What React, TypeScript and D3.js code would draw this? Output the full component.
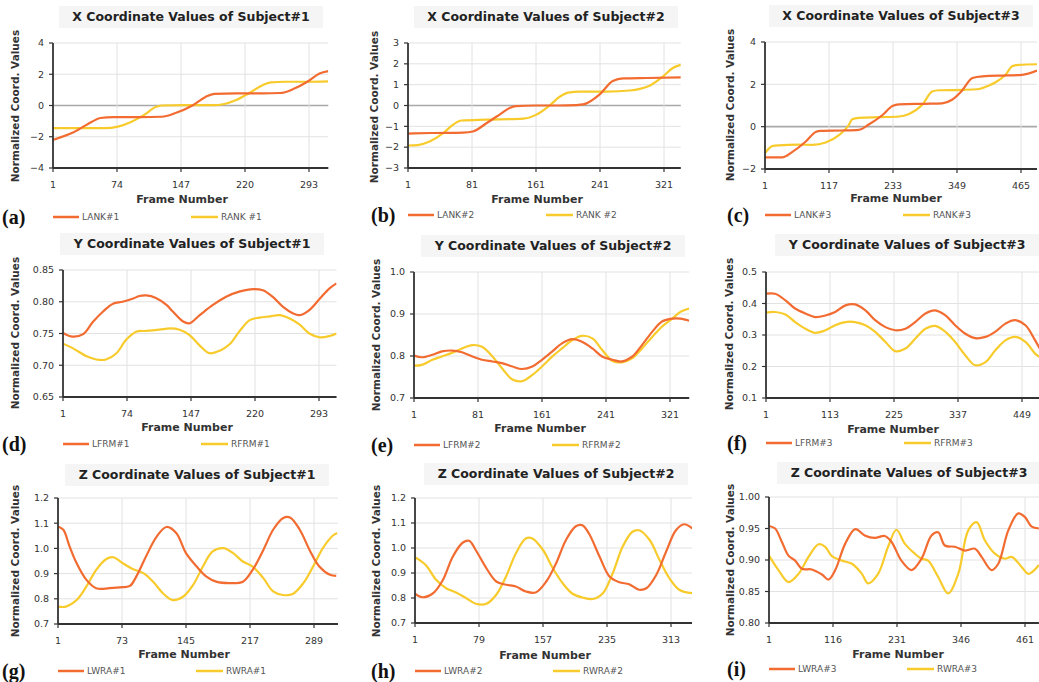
import React from 'react';
import * as d3 from 'd3';

type Pt = [number, number];

// [frame, normalized value]
const lank1: Pt[] = [[1,-2.2],[25,-1.7],[45,-1.05],[55,-0.8],[70,-0.75],[100,-0.75],[125,-0.72],[140,-0.5],[160,0],[175,0.55],[185,0.75],[210,0.78],[240,0.78],[260,0.8],[275,1.05],[292,1.55],[305,2.05],[315,2.2]];
const rank1: Pt[] = [[1,-1.45],[30,-1.45],[60,-1.45],[75,-1.35],[90,-1.05],[105,-0.6],[118,-0.1],[125,0],[150,0.02],[185,0.02],[195,0.08],[210,0.35],[225,0.8],[240,1.3],[250,1.48],[265,1.52],[290,1.52],[315,1.55]];

const lank2: Pt[] = [[1,-1.35],[30,-1.32],[70,-1.3],[82,-1.25],[99,-0.85],[115,-0.45],[128,-0.12],[136,-0.03],[160,0],[190,0],[211,0.02],[220,0.05],[241,0.55],[257,1.18],[270,1.3],[300,1.32],[342,1.35]];
const rank2: Pt[] = [[1,-1.92],[13,-1.9],[28,-1.73],[45,-1.33],[57,-0.93],[68,-0.72],[99,-0.68],[145,-0.63],[161,-0.45],[178,0],[191,0.43],[201,0.62],[216,0.67],[250,0.67],[278,0.72],[291,0.8],[303,0.95],[320,1.4],[332,1.8],[342,1.95]];

const lank3: Pt[] = [[1,-1.45],[32,-1.45],[50,-1.2],[75,-0.7],[93,-0.25],[102,-0.2],[140,-0.18],[171,-0.15],[189,0.1],[214,0.55],[232,0.98],[244,1.05],[290,1.08],[322,1.1],[340,1.27],[358,1.7],[377,2.3],[395,2.38],[440,2.42],[467,2.45],[494,2.65]];
const rank3: Pt[] = [[1,-1.25],[14,-0.92],[26,-0.88],[60,-0.85],[87,-0.86],[111,-0.75],[135,-0.4],[153,0.08],[159,0.35],[171,0.42],[210,0.45],[244,0.48],[262,0.6],[286,1.03],[304,1.66],[316,1.72],[360,1.74],[389,1.78],[407,1.95],[419,2.1],[437,2.45],[449,2.85],[461,2.92],[494,2.95]];

const lfrm1: Pt[] = [[1,0.751],[12,0.745],[24,0.749],[35,0.768],[47,0.785],[58,0.797],[69,0.8],[81,0.805],[88,0.809],[96,0.81],[107,0.806],[119,0.795],[126,0.785],[138,0.769],[145,0.766],[157,0.779],[172,0.795],[187,0.808],[202,0.816],[218,0.82],[229,0.818],[240,0.808],[252,0.792],[263,0.782],[271,0.779],[282,0.787],[294,0.805],[305,0.821],[313,0.829]];
const rfrm1: Pt[] = [[1,0.734],[12,0.727],[28,0.714],[39,0.709],[50,0.709],[62,0.719],[73,0.74],[85,0.753],[96,0.754],[111,0.756],[123,0.758],[134,0.756],[145,0.748],[157,0.731],[168,0.719],[180,0.723],[191,0.733],[202,0.753],[214,0.771],[225,0.775],[237,0.777],[248,0.779],[259,0.774],[271,0.764],[282,0.75],[294,0.744],[305,0.746],[313,0.75]];

const lfrm2: Pt[] = [[1,0.801],[11,0.797],[24,0.803],[36,0.811],[49,0.813],[61,0.809],[74,0.799],[86,0.791],[99,0.787],[111,0.783],[124,0.775],[136,0.769],[149,0.775],[161,0.791],[174,0.811],[186,0.83],[199,0.84],[211,0.834],[224,0.818],[236,0.799],[249,0.791],[261,0.787],[274,0.799],[286,0.826],[299,0.858],[311,0.882],[324,0.889],[334,0.889],[345,0.884]];
const rfrm2: Pt[] = [[1,0.777],[11,0.779],[24,0.791],[36,0.799],[49,0.808],[61,0.818],[74,0.826],[86,0.822],[99,0.799],[111,0.771],[124,0.744],[136,0.74],[149,0.755],[161,0.775],[174,0.799],[186,0.818],[199,0.838],[211,0.848],[224,0.842],[236,0.815],[249,0.788],[261,0.785],[274,0.795],[286,0.818],[299,0.846],[311,0.87],[324,0.889],[334,0.905],[345,0.913]];

const lfrm3: Pt[] = [[1,0.431],[17,0.431],[35,0.41],[52,0.384],[70,0.368],[87,0.357],[105,0.362],[122,0.373],[140,0.394],[157,0.397],[175,0.378],[192,0.347],[210,0.325],[227,0.315],[245,0.32],[262,0.341],[280,0.368],[297,0.378],[315,0.362],[332,0.331],[350,0.304],[367,0.29],[385,0.294],[402,0.31],[420,0.336],[437,0.347],[455,0.331],[472,0.283],[480,0.257]];
const rfrm3: Pt[] = [[1,0.371],[17,0.373],[35,0.365],[52,0.341],[70,0.32],[87,0.307],[105,0.315],[122,0.331],[140,0.341],[157,0.341],[175,0.331],[192,0.31],[210,0.278],[227,0.249],[245,0.257],[262,0.288],[280,0.32],[297,0.329],[315,0.31],[332,0.278],[350,0.235],[367,0.204],[385,0.214],[402,0.251],[420,0.283],[437,0.294],[455,0.278],[472,0.241],[480,0.23]];

const lwra1: Pt[] = [[1,1.087],[7,1.074],[14,1.008],[22,0.941],[33,0.875],[44,0.842],[59,0.842],[74,0.846],[82,0.851],[89,0.888],[100,0.968],[112,1.047],[123,1.085],[134,1.061],[145,0.981],[157,0.928],[168,0.888],[179,0.868],[194,0.862],[209,0.868],[220,0.915],[232,0.994],[243,1.074],[254,1.12],[262,1.123],[273,1.074],[284,0.994],[295,0.928],[307,0.895],[314,0.891]];
const rwra1: Pt[] = [[1,0.769],[10,0.769],[22,0.795],[33,0.849],[44,0.915],[55,0.957],[63,0.965],[74,0.941],[85,0.918],[97,0.902],[108,0.868],[119,0.822],[130,0.795],[142,0.809],[153,0.855],[164,0.928],[175,0.988],[187,1.001],[198,0.981],[209,0.948],[220,0.928],[232,0.882],[243,0.829],[254,0.815],[265,0.819],[277,0.862],[288,0.928],[299,1.001],[310,1.05],[315,1.061]];

const lwra2: Pt[] = [[1,0.817],[10,0.803],[23,0.819],[35,0.872],[47,0.965],[59,1.021],[67,1.029],[75,0.992],[88,0.919],[100,0.866],[112,0.853],[124,0.846],[136,0.826],[148,0.822],[161,0.866],[173,0.939],[185,1.032],[197,1.087],[205,1.091],[213,1.058],[226,0.965],[238,0.886],[250,0.863],[262,0.855],[274,0.833],[283,0.839],[295,0.892],[307,0.985],[319,1.071],[329,1.095],[339,1.078]];
const rwra2: Pt[] = [[1,0.963],[14,0.932],[27,0.872],[39,0.839],[51,0.822],[63,0.8],[75,0.777],[88,0.777],[100,0.813],[112,0.886],[124,0.979],[136,1.038],[144,1.038],[157,0.992],[169,0.919],[181,0.859],[193,0.817],[205,0.802],[218,0.796],[230,0.819],[242,0.899],[254,1.005],[266,1.065],[274,1.071],[287,1.032],[299,0.952],[311,0.879],[323,0.833],[339,0.819]];

const lwra3: Pt[] = [[1,0.954],[12,0.95],[24,0.929],[36,0.907],[48,0.899],[60,0.886],[78,0.885],[96,0.877],[108,0.869],[120,0.884],[138,0.926],[156,0.949],[173,0.939],[191,0.935],[209,0.938],[221,0.929],[239,0.899],[257,0.884],[275,0.902],[293,0.939],[305,0.944],[317,0.923],[335,0.921],[353,0.915],[371,0.918],[383,0.905],[401,0.884],[413,0.894],[431,0.947],[449,0.974],[461,0.968],[473,0.953],[486,0.95]];
const rwra3: Pt[] = [[1,0.907],[18,0.884],[36,0.865],[54,0.878],[72,0.905],[90,0.925],[102,0.921],[114,0.906],[132,0.899],[150,0.894],[168,0.878],[179,0.863],[197,0.878],[215,0.921],[230,0.948],[245,0.926],[263,0.91],[275,0.902],[287,0.899],[305,0.873],[323,0.847],[341,0.878],[359,0.947],[374,0.96],[389,0.931],[407,0.91],[425,0.902],[437,0.905],[455,0.889],[467,0.878],[486,0.892]];

const titles = [
  'X Coordinate Values of Subject#1', 'X Coordinate Values of Subject#2', 'X Coordinate Values of Subject#3',
  'Y Coordinate Values of Subject#1', 'Y Coordinate Values of Subject#2', 'Y Coordinate Values of Subject#3',
  'Z Coordinate Values of Subject#1', 'Z Coordinate Values of Subject#2', 'Z Coordinate Values of Subject#3',
];
const leftNames = ['LANK#1', 'LANK#2', 'LANK#3', 'LFRM#1', 'LFRM#2', 'LFRM#3', 'LWRA#1', 'LWRA#2', 'LWRA#3'];
const rightNames = ['RANK #1', 'RANK #2', 'RANK#3', 'RFRM#1', 'RFRM#2', 'RFRM#3', 'RWRA#1', 'RWRA#2', 'RWRA#3'];
const leftSeries = [lank1, lank2, lank3, lfrm1, lfrm2, lfrm3, lwra1, lwra2, lwra3];
const rightSeries = [rank1, rank2, rank3, rfrm1, rfrm2, rfrm3, rwra1, rwra2, rwra3];
const frameSteps = [73, 80, 116, 73, 80, 112, 72, 78, 115];
const frameMax = [315, 342, 494, 313, 345, 482, 316, 339, 486];
const yDomains: [number, number][] = [[-4, 4], [-3, 3], [-2, 4], [0.65, 0.85], [0.7, 1.0], [0.1, 0.5], [0.7, 1.2], [0.7, 1.2], [0.8, 1.0]];
const yTickSteps = [2, 1, 2, 0.05, 0.1, 0.1, 0.1, 0.1, 0.05];
const yFormats = ['d', 'd', 'd', '.2f', '.1f', '.1f', '.1f', '.1f', '.2f'];
const tags = ['(a)', '(b)', '(c)', '(d)', '(e)', '(f)', '(g)', '(h)', '(i)'];

// layout for each panel (pixels)
const layout = [
  { left: 53, top: 43, h: 125, title: [191, 17], yLab: [15, 106], fLab: [182, 199], leg: 217, tagX: 2, clip: 346 },
  { left: 408, top: 43, h: 125, title: [546, 17], yLab: [374, 107], fLab: [537, 199], leg: 215, tagX: 371, clip: 692 },
  { left: 765, top: 42, h: 127, title: [901, 16], yLab: [730, 105], fLab: [896, 198], leg: 215, tagX: 727, clip: 1039 },
  { left: 63, top: 270, h: 127, title: [192, 244], yLab: [15, 333], fLab: [187, 427], leg: 444, tagX: 2, clip: 346 },
  { left: 414, top: 272, h: 126, title: [553, 246], yLab: [376, 335], fLab: [540, 428], leg: 445, tagX: 371, clip: 692 },
  { left: 766, top: 272, h: 126, title: [907, 245], yLab: [729, 334], fLab: [893, 429], leg: 443, tagX: 727, clip: 1039 },
  { left: 58, top: 498, h: 126, title: [197, 475], yLab: [15, 561], fLab: [184, 654], leg: 671, tagX: 2, clip: 346 },
  { left: 415, top: 498, h: 125, title: [556, 474], yLab: [376, 561], fLab: [545, 655], leg: 671, tagX: 371, clip: 692 },
  { left: 769, top: 497, h: 126, title: [909, 473], yLab: [730, 560], fLab: [898, 654], leg: 669, tagX: 727, clip: 1039 },
];

const ORANGE = '#f26b30';
const YELLOW = '#f8cb2c';
const FONT = '"DejaVu Sans", Verdana, sans-serif';

function Panel({ i }: { i: number }) {
  const L = layout[i];
  const step = frameSteps[i];
  const xMax = frameMax[i];
  const w = (64 * (xMax - 1)) / step;
  const x = d3.scaleLinear().domain([1, xMax]).range([L.left, L.left + w]);
  const y = d3.scaleLinear().domain(yDomains[i]).range([L.top + L.h, L.top]);
  const xTicks = d3.range(1, xMax + 1, step);
  const [y0, y1] = yDomains[i];
  const yTicks = d3.range(y0, y1 + yTickSteps[i] / 2, yTickSteps[i]);
  const fmt = d3.format(yFormats[i]);
  // step-like X panels keep monotone; wavy ones get a smooth spline
  const curve = i < 3 ? d3.curveMonotoneX : d3.curveCatmullRom.alpha(0.5);
  const line = d3.line<Pt>().x(d => x(d[0])).y(d => y(d[1])).curve(curve);
  const right = Math.min(L.left + w, L.clip);
  const clipId = `clip${i}`;
  const bottom = L.top + L.h;

  return (
    <g fontFamily={FONT}>
      <clipPath id={clipId}>
        <rect x={L.left} y={L.top - 5} width={right - L.left} height={L.h + 10} />
      </clipPath>
      <rect x={L.title[0] - 132} y={L.title[1] - 11} width={264} height={22} fill="#f5f5f5" />
      <text x={L.title[0]} y={L.title[1]} dy="0.35em" textAnchor="middle" fontSize={12.5} fontWeight="bold" fill="#222">
        {titles[i]}
      </text>

      {/* grid */}
      {yTicks.map(t => (
        <line key={'gy' + t} x1={L.left} x2={right} y1={y(t)} y2={y(t)}
          stroke={Math.abs(t) < 1e-9 ? '#a9a9a9' : '#e2e2e2'} strokeWidth={Math.abs(t) < 1e-9 ? 1.6 : 1} />
      ))}
      {xTicks.slice(1).map(t => (
        <line key={'gx' + t} x1={x(t)} x2={x(t)} y1={L.top} y2={bottom} stroke="#e2e2e2" />
      ))}

      <g clipPath={`url(#${clipId})`}>
        <path d={line(rightSeries[i]) ?? ''} fill="none" stroke={YELLOW} strokeWidth={2.2} />
        <path d={line(leftSeries[i]) ?? ''} fill="none" stroke={ORANGE} strokeWidth={2.2} />
      </g>

      {/* axes */}
      <line x1={L.left} x2={L.left} y1={L.top} y2={bottom} stroke="#333" strokeWidth={1.8} />
      <line x1={L.left} x2={right} y1={bottom} y2={bottom} stroke="#333" strokeWidth={1.8} />
      {yTicks.map(t => (
        <g key={'ty' + t}>
          <line x1={L.left - 4} x2={L.left} y1={y(t)} y2={y(t)} stroke="#333" strokeWidth={1.2} />
          <text x={L.left - 9} y={y(t)} dy="0.35em" textAnchor="end" fontSize={9.5} fill="#333">{fmt(t)}</text>
        </g>
      ))}
      {xTicks.map(t => (
        <g key={'tx' + t}>
          <line x1={x(t)} x2={x(t)} y1={bottom} y2={bottom + 4} stroke="#333" strokeWidth={1.2} />
          <text x={x(t)} y={bottom + 17} dy="0.35em" textAnchor="middle" fontSize={9.5} fill="#333">{t}</text>
        </g>
      ))}

      <text x={L.fLab[0]} y={L.fLab[1]} dy="0.35em" textAnchor="middle" fontSize={11} fontWeight="bold" fill="#333">
        Frame Number
      </text>
      <text transform={`translate(${L.yLab[0]},${L.yLab[1]}) rotate(-90)`} dy="0.35em" textAnchor="middle"
        fontSize={10.5} fontWeight="bold" fill="#333">
        Normalized Coord. Values
      </text>

      {/* legend */}
      <text x={L.tagX} y={L.leg} dy="0.33em" fontSize={20} fontWeight="bold" fontFamily='"Liberation Serif", serif' fill="#111">
        {tags[i]}
      </text>
      <line x1={L.left} x2={L.left + 26} y1={L.leg} y2={L.leg} stroke={ORANGE} strokeWidth={2.5} />
      <text x={L.left + 29} y={L.leg} dy="0.35em" fontSize={9} fill="#555">{leftNames[i]}</text>
      <line x1={L.left + 138} x2={L.left + 165} y1={L.leg} y2={L.leg} stroke={YELLOW} strokeWidth={2.5} />
      <text x={L.left + 168} y={L.leg} dy="0.35em" fontSize={9} fill="#555">{rightNames[i]}</text>
    </g>
  );
}

export default function App() {
  return (
    <svg width={1039} height={682} style={{ position: 'absolute', left: 0, top: 0, background: '#fff' }}>
      <rect width={1039} height={682} fill="#fff" />
      {layout.map((_, i) => <Panel key={i} i={i} />)}
    </svg>
  );
}
